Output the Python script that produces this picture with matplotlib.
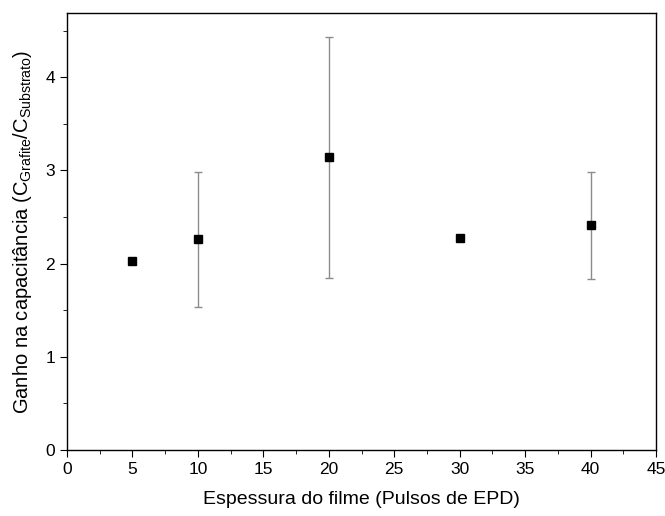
import matplotlib
matplotlib.use("Agg")
import matplotlib.pyplot as plt
from matplotlib.ticker import MultipleLocator

plt.rcParams['font.family'] = ['Liberation Sans', 'DejaVu Sans']
plt.rcParams['mathtext.fontset'] = 'custom'
plt.rcParams['mathtext.rm'] = 'Liberation Sans'

# data
pulsos = [5, 10, 20, 30, 40]
ganho = [2.03, 2.26, 3.14, 2.28, 2.41]
erro = [0.02, 0.72, 1.29, 0.0, 0.57]

fig = plt.figure(figsize=(6.65, 5.16), dpi=100)
ax = fig.add_axes([67 / 665, 66 / 516, 589 / 665, 437 / 516])

ax.errorbar(pulsos, ganho, yerr=erro, fmt='s', color='black', ms=6,
            ecolor='#8c8c8c', elinewidth=1, capsize=3, capthick=1)

ax.set_xlim(0, 45)
ax.set_ylim(0, 4.69)
ax.xaxis.set_major_locator(MultipleLocator(5))
ax.xaxis.set_minor_locator(MultipleLocator(2.5))
ax.yaxis.set_major_locator(MultipleLocator(1))
ax.yaxis.set_minor_locator(MultipleLocator(0.5))
ax.tick_params(which='both', direction='out', top=False, right=False, labelsize=12.5)
ax.tick_params(which='major', length=5)
ax.tick_params(which='minor', length=3)
for s in ax.spines.values():
    s.set_linewidth(1)

ax.set_xlabel('Espessura do filme (Pulsos de EPD)', fontsize=14, labelpad=10)
ax.set_ylabel(r'Ganho na capacitância (C$_{\mathregular{Grafite}}$/C$_{\mathregular{Substrato}}$)',
              fontsize=14.5, labelpad=8)

fig.savefig('out.png', dpi=100)
